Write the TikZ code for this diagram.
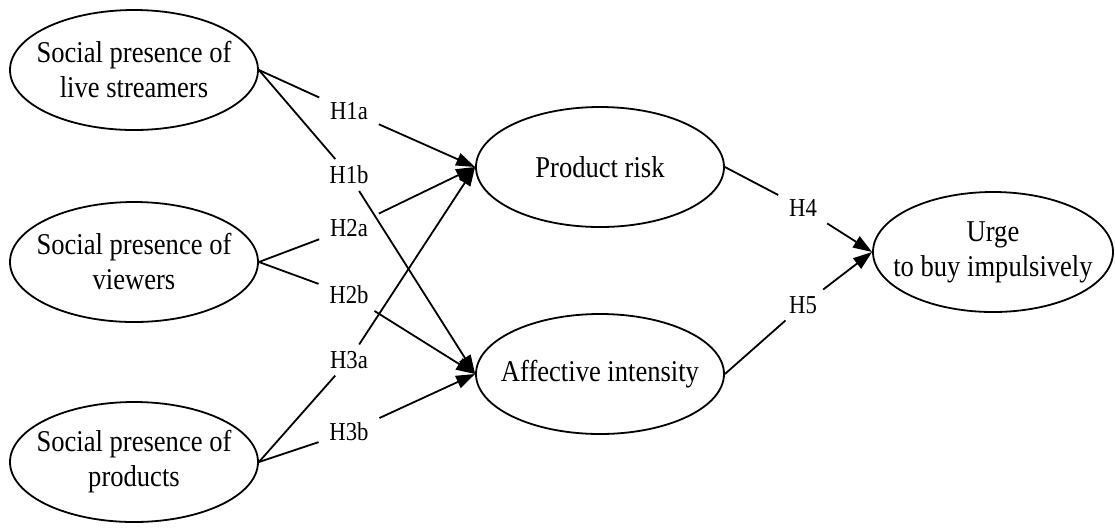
\documentclass[tikz,border=0pt]{standalone}
\usepackage{fontspec}
\setmainfont{Liberation Serif}[FakeStretch=0.88]
\usetikzlibrary{arrows.meta,shapes.geometric}

\begin{document}
\begin{tikzpicture}[
  x=0.5pt, y=-0.5pt,
  line width=0.9pt,
  construct/.style={draw, ellipse, align=center, minimum width=124pt,
                    minimum height=60pt, inner sep=-20pt,
                    font=\fontsize{15.1}{17.5}\selectfont},
  hyp/.style={inner xsep=5pt, inner ysep=3pt, font=\fontsize{12.9}{14}\selectfont},
  effect/.style={-{Triangle[length=9.5pt,width=6.5pt]}}
]
\useasboundingbox (0,0) rectangle (1115,527);

\node[construct] (streamer) at (134,70) {Social presence of\\live streamers};
\node[construct] (viewer) at (134,262) {Social presence of\\viewers};
\node[construct] (product) at (134,462) {Social presence of\\products};
\node[construct] (risk) at (600,167) {Product risk};
\node[construct] (affect) at (600,374) {Affective intensity};
\node[construct, minimum width=120pt] (urge) at (993,252) {Urge\\to buy impulsively};

\node[hyp] (h1a) at (349,111) {H1a};
\node[hyp] (h1b) at (349,175) {H1b};
\node[hyp] (h2a) at (349,228) {H2a};
\node[hyp] (h2b) at (349,295) {H2b};
\node[hyp] (h3a) at (349,360) {H3a};
\node[hyp] (h3b) at (349,432) {H3b};
\node[hyp] (h4) at (803,208) {H4};
\node[hyp] (h5) at (803,305) {H5};

\draw (streamer.east) -- (h1a);
\draw[effect] (h1a) -- (risk.west);
\draw (streamer.east) -- (h1b);
\draw[effect] (h1b) -- (affect.west);
\draw (viewer.east) -- (h2a);
\draw[effect] (h2a) -- (risk.west);
\draw (viewer.east) -- (h2b);
\draw[effect] (h2b) -- (affect.west);
\draw (product.east) -- (h3a);
\draw[effect] (h3a) -- (risk.west);
\draw (product.east) -- (h3b);
\draw[effect] (h3b) -- (affect.west);
\draw (risk.east) -- (h4);
\draw[effect] (h4) -- (urge.west);
\draw (affect.east) -- (h5);
\draw[effect] (h5) -- (urge.west);
\end{tikzpicture}
\end{document}
